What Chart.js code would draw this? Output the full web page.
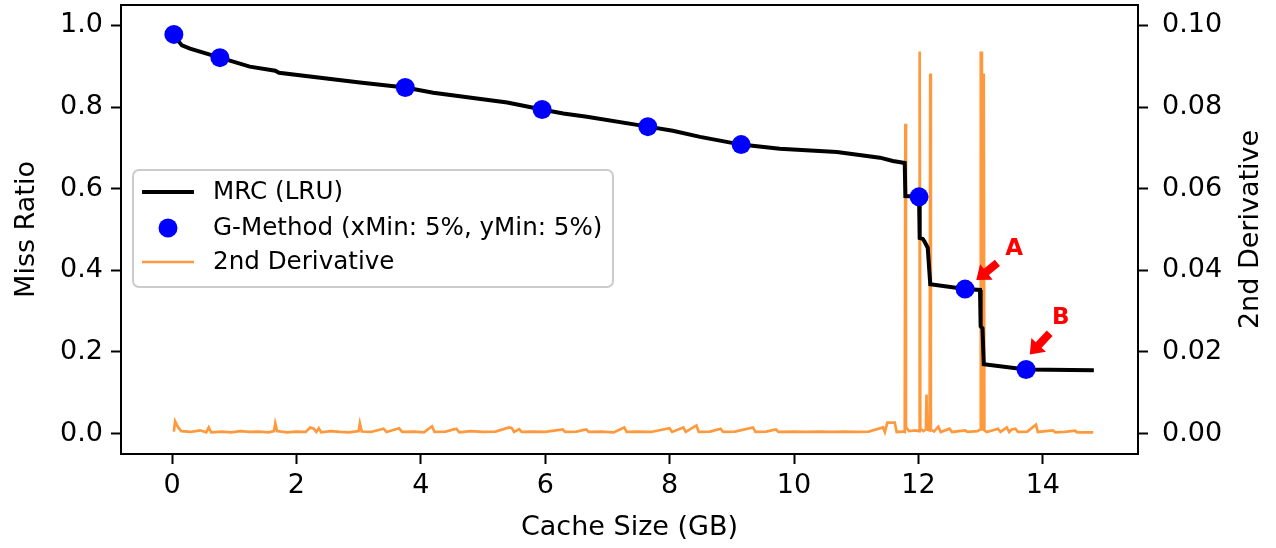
<!DOCTYPE html>
<html>
<head>
<meta charset="utf-8">
<script src="https://cdn.jsdelivr.net/npm/chart.js@4/dist/chart.umd.min.js"></script>
<style>
  html, body { margin: 0; padding: 0; background: #fff; }
  #wrap { width: 1276px; height: 548px; }
</style>
</head>
<body>
<div id="wrap"><canvas id="mrcChart" width="1276" height="548"></canvas></div>
<script>
// MRC (LRU) curve, miss ratio vs cache size (GB)
const mrcX = [0.03, 0.10, 0.16, 0.29, 0.77, 1.25, 1.66, 1.72, 3.02, 3.75, 4.20, 5.39, 5.95, 6.29, 6.67,
  7.65, 8.05, 8.49, 9.15, 9.77, 10.69, 11.38, 11.59, 11.78, 11.79, 12.01, 12.02, 12.07, 12.10,
  12.15, 12.19, 12.75, 12.99, 13.00, 13.03, 13.05, 13.73, 14.82];
const mrcY = [0.978, 0.962, 0.951, 0.943, 0.921, 0.899, 0.889, 0.884, 0.860, 0.848, 0.835, 0.811, 0.794, 0.784, 0.776,
  0.752, 0.742, 0.727, 0.708, 0.698, 0.690, 0.676, 0.668, 0.663, 0.582, 0.580, 0.479, 0.477, 0.470,
  0.455, 0.366, 0.354, 0.352, 0.263, 0.258, 0.170, 0.157, 0.155];

// G-Method points
const gX = [0.03, 0.77, 3.75, 5.95, 7.65, 9.15, 12.01, 12.75, 13.73];
const gY = [0.978, 0.921, 0.848, 0.794, 0.752, 0.708, 0.580, 0.354, 0.157];

// 2nd derivative (right axis)
const derivX = [0.03, 0.05, 0.10, 0.15, 0.30, 0.45, 0.55, 0.59, 0.63, 0.80, 0.95, 1.10, 1.25, 1.40, 1.55,
  1.64, 1.66, 1.69, 1.85, 2.00, 2.15, 2.22, 2.28, 2.32, 2.36, 2.40, 2.55, 2.70, 2.85, 3.00, 3.02, 3.05,
  3.20, 3.40, 3.45, 3.65, 3.70, 3.90, 4.05, 4.18, 4.22, 4.40, 4.57, 4.62, 4.80, 5.00, 5.20, 5.42, 5.46,
  5.50, 5.58, 5.62, 5.80, 6.00, 6.28, 6.32, 6.50, 6.66, 6.70, 6.90, 7.10, 7.27, 7.31, 7.50, 7.70, 8.00,
  8.04, 8.22, 8.26, 8.43, 8.47, 8.65, 8.82, 8.86, 9.05, 9.34, 9.38, 9.55, 9.71, 9.75, 10.00, 10.20,
  10.40, 10.60, 10.80, 11.00, 11.20, 11.43, 11.46, 11.50, 11.62, 11.65, 11.75, 11.78, 11.79, 11.80,
  11.85, 11.95, 12.01, 12.02, 12.03, 12.08, 12.12, 12.13, 12.14, 12.18, 12.19, 12.20, 12.25, 12.32,
  12.36, 12.50, 12.54, 12.75, 12.79, 12.95, 12.99, 13.00, 13.005, 13.01, 13.02, 13.03, 13.04, 13.05,
  13.06, 13.10, 13.28, 13.32, 13.42, 13.46, 13.50, 13.56, 13.60, 13.75, 13.89, 13.92, 14.16, 14.20,
  14.35, 14.52, 14.55, 14.70, 14.81];
const derivY = [0.0005, 0.0030, 0.0015, 0.0006, 0.0004, 0.0008, 0.0003, 0.0015, 0.0003, 0.0005, 0.0003,
  0.0006, 0.0004, 0.0005, 0.0003, 0.0006, 0.0025, 0.0006, 0.0003, 0.0005, 0.0004, 0.0015, 0.0012, 0.0004,
  0.0013, 0.0003, 0.0006, 0.0004, 0.0003, 0.0006, 0.0025, 0.0005, 0.0004, 0.0012, 0.0004, 0.0013, 0.0004,
  0.0005, 0.0003, 0.0018, 0.0004, 0.0005, 0.0012, 0.0003, 0.0006, 0.0004, 0.0005, 0.0015, 0.0014, 0.0004,
  0.0011, 0.0004, 0.0005, 0.0004, 0.0010, 0.0004, 0.0005, 0.0010, 0.0004, 0.0005, 0.0003, 0.0015, 0.0004,
  0.0005, 0.0004, 0.0013, 0.0004, 0.0015, 0.0004, 0.0020, 0.0004, 0.0005, 0.0012, 0.0004, 0.0005, 0.0015,
  0.0004, 0.0005, 0.0010, 0.0004, 0.0005, 0.0004, 0.0005, 0.0004, 0.0005, 0.0004, 0.0005, 0.0015, 0.0004,
  0.0027, 0.0027, 0.0004, 0.0005, 0.0004, 0.0759, 0.0015, 0.0006, 0.0008, 0.0006, 0.0936, 0.0012, 0.0006,
  0.0010, 0.0096, 0.0010, 0.0008, 0.0882, 0.0010, 0.0005, 0.0017, 0.0004, 0.0012, 0.0004, 0.0008, 0.0004,
  0.0006, 0.0010, 0.0936, 0.0010, 0.0936, 0.0020, 0.0882, 0.0010, 0.0882, 0.0008, 0.0004, 0.0012, 0.0004,
  0.0015, 0.0004, 0.0010, 0.0012, 0.0004, 0.0005, 0.0022, 0.0004, 0.0008, 0.0003, 0.0004, 0.0007, 0.0003,
  0.0003, 0.0003];

const xTicks = [0, 2, 4, 6, 8, 10, 12, 14];
const yTicks = [0.0, 0.2, 0.4, 0.6, 0.8, 1.0];
const y2Ticks = [0.00, 0.02, 0.04, 0.06, 0.08, 0.10];

const seriesNames = ['MRC (LRU)', 'G-Method (xMin: 5%, yMin: 5%)', '2nd Derivative'];

// annotation labels: text position + arrow tail/tip, in data units (left axis)
const notes = [
  { label: 'A', tx: 13.54, ty: 0.452, x1: 13.27, y1: 0.418, x2: 12.93, y2: 0.376 },
  { label: 'B', tx: 14.29, ty: 0.283, x1: 14.11, y1: 0.246, x2: 13.79, y2: 0.194 }
];

const FONT = 'DejaVu Sans';
const ORANGE = 'rgba(255,127,14,0.8)';

const toPts = (xs, ys) => xs.map((x, i) => ({ x: x, y: ys[i] }));

function setTicks(vals) {
  return scale => { scale.ticks = vals.map(v => ({ value: v })); };
}

// fixed axis sizes, no extra label overflow padding
function fitSize(w, h) {
  return s => {
    if (w) s.width = w;
    if (h) s.height = h;
    s.paddingTop = 0; s.paddingBottom = 0; s.paddingLeft = 0; s.paddingRight = 0;
  };
}

const axisStyle = {
  grid: { drawOnChartArea: false, color: '#000', tickLength: 10, tickWidth: 2 },
  border: { color: '#000', width: 2 }
};

const extras = {
  id: 'extras',
  afterDraw(chart) {
    const ctx = chart.ctx;
    const a = chart.chartArea;
    const xs = chart.scales.x, ys = chart.scales.y;
    ctx.save();

    // top spine
    ctx.strokeStyle = '#000';
    ctx.lineWidth = 2;
    ctx.beginPath();
    ctx.moveTo(a.left - 1, a.top);
    ctx.lineTo(a.right + 1, a.top);
    ctx.stroke();

    // axis titles
    ctx.fillStyle = '#000';
    ctx.font = '27px "' + FONT + '"';
    ctx.textAlign = 'center';
    ctx.textBaseline = 'middle';
    ctx.fillText('Cache Size (GB)', (a.left + a.right) / 2, 528);
    ctx.save();
    ctx.translate(27, (a.top + a.bottom) / 2);
    ctx.rotate(-Math.PI / 2);
    ctx.fillText('Miss Ratio', 0, 0);
    ctx.restore();
    ctx.save();
    ctx.translate(1251, (a.top + a.bottom) / 2);
    ctx.rotate(-Math.PI / 2);
    ctx.fillText('2nd Derivative', 0, 0);
    ctx.restore();

    // A / B annotations
    notes.forEach(n => {
      const px1 = xs.getPixelForValue(n.x1), py1 = ys.getPixelForValue(n.y1);
      const px2 = xs.getPixelForValue(n.x2), py2 = ys.getPixelForValue(n.y2);
      const dx = px2 - px1, dy = py2 - py1;
      const len = Math.hypot(dx, dy);
      const ux = dx / len, uy = dy / len, nx = -uy, ny = ux;
      const headL = 13, headW = 10, shaftW = 4;
      const bx = px2 - ux * headL, by = py2 - uy * headL;
      ctx.fillStyle = '#ff0000';
      ctx.beginPath();
      ctx.moveTo(px1 + nx * shaftW, py1 + ny * shaftW);
      ctx.lineTo(bx + nx * shaftW, by + ny * shaftW);
      ctx.lineTo(bx + nx * headW, by + ny * headW);
      ctx.lineTo(px2, py2);
      ctx.lineTo(bx - nx * headW, by - ny * headW);
      ctx.lineTo(bx - nx * shaftW, by - ny * shaftW);
      ctx.lineTo(px1 - nx * shaftW, py1 - ny * shaftW);
      ctx.closePath();
      ctx.fill();
      ctx.font = 'bold 23px "' + FONT + '"';
      ctx.fillText(n.label, xs.getPixelForValue(n.tx), ys.getPixelForValue(n.ty));
    });

    // legend box
    const lx = 133, ly = 170, lw = 480, lh = 117, r = 6;
    ctx.fillStyle = 'rgba(255,255,255,0.8)';
    ctx.strokeStyle = '#cccccc';
    ctx.lineWidth = 2;
    ctx.beginPath();
    ctx.roundRect(lx, ly, lw, lh, r);
    ctx.fill();
    ctx.stroke();

    const rows = [192, 228, 262];
    ctx.strokeStyle = '#000';
    ctx.lineWidth = 4;
    ctx.beginPath();
    ctx.moveTo(142, rows[0]);
    ctx.lineTo(194, rows[0]);
    ctx.stroke();
    ctx.fillStyle = '#0000ff';
    ctx.beginPath();
    ctx.arc(168, rows[1], 9.5, 0, Math.PI * 2);
    ctx.fill();
    ctx.strokeStyle = ORANGE;
    ctx.lineWidth = 2.7;
    ctx.beginPath();
    ctx.moveTo(142, rows[2]);
    ctx.lineTo(194, rows[2]);
    ctx.stroke();

    ctx.fillStyle = '#000';
    ctx.font = '24.6px "' + FONT + '"';
    ctx.textAlign = 'left';
    seriesNames.forEach((s, i) => ctx.fillText(s, 213, rows[i] + 1));
    ctx.restore();
  }
};

new Chart(document.getElementById('mrcChart'), {
  type: 'scatter',
  data: {
    datasets: [
      {
        label: seriesNames[0],
        data: toPts(mrcX, mrcY),
        showLine: true,
        borderColor: '#000',
        borderWidth: 4,
        pointRadius: 0,
        yAxisID: 'y',
        order: 1
      },
      {
        label: seriesNames[1],
        data: toPts(gX, gY),
        showLine: false,
        backgroundColor: '#0000ff',
        borderWidth: 0,
        pointRadius: 9.5,
        yAxisID: 'y',
        order: 0
      },
      {
        label: seriesNames[2],
        data: toPts(derivX, derivY),
        showLine: true,
        borderColor: ORANGE,
        borderWidth: 2.7,
        pointRadius: 0,
        yAxisID: 'y2',
        order: 2
      }
    ]
  },
  options: {
    responsive: false,
    animation: false,
    layout: { autoPadding: false, padding: { top: 5, left: 0, right: 0, bottom: 0 } },
    plugins: { legend: { display: false }, tooltip: { enabled: false } },
    scales: {
      x: {
        type: 'linear',
        position: 'bottom',
        min: -0.82,
        max: 15.53,
        afterBuildTicks: setTicks(xTicks),
        afterFit: fitSize(0, 94),
        ticks: { color: '#000', font: { family: FONT, size: 27 }, padding: 6, maxRotation: 0,
          callback: v => String(v) },
        ...axisStyle
      },
      y: {
        position: 'left',
        min: -0.05,
        max: 1.05,
        afterBuildTicks: setTicks(yTicks),
        afterFit: fitSize(121, 0),
        ticks: { color: '#000', font: { family: FONT, size: 27 }, padding: 8,
          callback: v => v.toFixed(1) },
        ...axisStyle
      },
      y2: {
        position: 'right',
        min: -0.005,
        max: 0.105,
        afterBuildTicks: setTicks(y2Ticks),
        afterFit: fitSize(138, 0),
        ticks: { color: '#000', font: { family: FONT, size: 27 }, padding: 14,
          callback: v => v.toFixed(2) },
        ...axisStyle
      }
    }
  },
  plugins: [extras]
});
</script>
</body>
</html>
